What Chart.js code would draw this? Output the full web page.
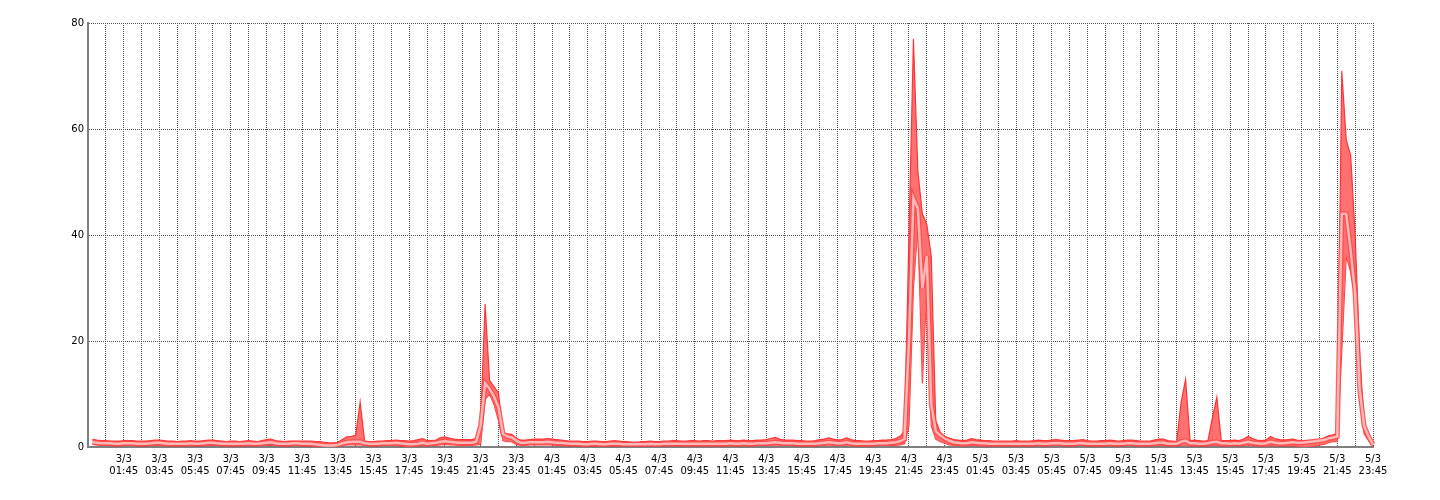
<!DOCTYPE html>
<html>
<head>
<meta charset="utf-8">
<script src="https://cdn.jsdelivr.net/npm/chart.js@4"></script>
<style>
  html, body { margin: 0; padding: 0; background: #fff; }
  #wrap { width: 1440px; height: 500px; }
</style>
</head>
<body>
<div id="wrap"><canvas id="myChart"></canvas></div>
<script>
// 15 min samples, first slot = 2/3 23:45
const startDay = 2;
const startMinutes = 23 * 60 + 45;
const stepMinutes = 15;

const maxData = [null,
  1.45, 1.3, 1.2, 1.2, 1.1, 1.1, 1.1, 1.2, 1.2, 1.2, 1.1, 1.1,
  1.1, 1.2, 1.3, 1.3, 1.2, 1.1, 1.1, 1.0, 1.1, 1.1, 1.2, 1.1,
  1.1, 1.2, 1.3, 1.3, 1.2, 1.1, 1.0, 1.1, 1.1, 1.0, 1.1, 1.2,
  1.1, 1.0, 1.2, 1.4, 1.5, 1.2, 1.1, 1.0, 1.1, 1.1, 1.1, 1.1,
  1.1, 1.1, 1.0, 1.0, 0.9, 0.8, 0.8, 0.9, 1.4, 1.9, 2.0, 2.2,
  8.5, 1.1, 1.0, 1.0, 1.1, 1.1, 1.2, 1.2, 1.3, 1.2, 1.2, 1.1,
  1.2, 1.4, 1.6, 1.2, 1.2, 1.3, 1.8, 1.9, 1.7, 1.5, 1.4, 1.4,
  1.4, 1.4, 1.6, 5.0, 27, 12.6, 11.4, 10.2, 2.6, 2.5, 2.4, 1.6,
  1.3, 1.3, 1.4, 1.5, 1.5, 1.5, 1.6, 1.5, 1.4, 1.3, 1.2, 1.1,
  1.1, 1.1, 1.0, 1.0, 1.1, 1.1, 1.0, 1.0, 1.1, 1.2, 1.1, 1.0,
  1.0, 0.9, 0.9, 1.0, 1.0, 1.1, 1.0, 1.0, 1.1, 1.1, 1.2, 1.2,
  1.1, 1.1, 1.2, 1.2, 1.1, 1.2, 1.2, 1.1, 1.2, 1.2, 1.2, 1.3,
  1.2, 1.2, 1.3, 1.2, 1.2, 1.3, 1.3, 1.4, 1.6, 1.8, 1.5, 1.3,
  1.3, 1.3, 1.2, 1.2, 1.1, 1.1, 1.2, 1.4, 1.5, 1.7, 1.5, 1.3,
  1.4, 1.7, 1.4, 1.2, 1.2, 1.1, 1.1, 1.2, 1.2, 1.3, 1.3, 1.4,
  1.6, 2.0, 3.0, 40, 77, 52, 44, 42, 36, 5.0, 2.8, 2.0,
  1.7, 1.4, 1.3, 1.2, 1.3, 1.6, 1.4, 1.3, 1.2, 1.2, 1.1, 1.1,
  1.1, 1.1, 1.1, 1.2, 1.1, 1.1, 1.1, 1.2, 1.3, 1.2, 1.2, 1.3,
  1.4, 1.3, 1.2, 1.2, 1.2, 1.3, 1.4, 1.2, 1.1, 1.1, 1.2, 1.2,
  1.3, 1.2, 1.1, 1.2, 1.3, 1.3, 1.2, 1.1, 1.1, 1.1, 1.3, 1.5,
  1.5, 1.2, 1.1, 1.0, 8.5, 12.8, 1.2, 1.3, 1.2, 1.1, 1.2, 5.5,
  9.4, 1.2, 1.2, 1.2, 1.3, 1.2, 1.5, 2.0, 1.6, 1.3, 1.2, 1.3,
  2.0, 1.6, 1.4, 1.3, 1.4, 1.5, 1.3, 1.2, 1.2, 1.2, 1.3, 1.2,
  1.7, 2.1, 2.3, 2.5, 71, 58, 55, 40, 18, 4.5, 2.5, 0.5
];

const avgData = [null,
  0.9, 0.8, 0.7, 0.7, 0.7, 0.6, 0.6, 0.7, 0.7, 0.7, 0.6, 0.6,
  0.6, 0.7, 0.8, 0.8, 0.7, 0.6, 0.6, 0.6, 0.6, 0.6, 0.7, 0.6,
  0.6, 0.7, 0.8, 0.8, 0.7, 0.6, 0.6, 0.6, 0.6, 0.6, 0.6, 0.7,
  0.6, 0.6, 0.7, 0.8, 0.9, 0.7, 0.6, 0.6, 0.6, 0.7, 0.7, 0.6,
  0.6, 0.6, 0.5, 0.4, 0.3, 0.3, 0.3, 0.4, 0.7, 0.9, 1.0, 1.0,
  1.0, 0.7, 0.6, 0.6, 0.6, 0.7, 0.7, 0.7, 0.8, 0.7, 0.6, 0.5,
  0.5, 0.6, 0.8, 0.6, 0.7, 0.8, 1.0, 1.1, 1.0, 0.9, 0.8, 0.8,
  0.8, 0.8, 1.0, 4.0, 12, 11, 9.5, 7.5, 2.5, 2.0, 1.8, 1.2,
  0.8, 0.8, 0.9, 0.9, 0.9, 0.9, 1.0, 0.9, 0.8, 0.8, 0.7, 0.6,
  0.6, 0.6, 0.5, 0.5, 0.6, 0.6, 0.5, 0.5, 0.6, 0.6, 0.6, 0.5,
  0.5, 0.5, 0.5, 0.5, 0.5, 0.6, 0.5, 0.5, 0.6, 0.6, 0.6, 0.6,
  0.6, 0.6, 0.6, 0.6, 0.6, 0.6, 0.6, 0.6, 0.6, 0.6, 0.6, 0.7,
  0.6, 0.6, 0.7, 0.6, 0.6, 0.7, 0.7, 0.7, 0.8, 0.9, 0.8, 0.7,
  0.7, 0.7, 0.6, 0.6, 0.6, 0.6, 0.6, 0.7, 0.8, 0.9, 0.8, 0.7,
  0.7, 0.9, 0.7, 0.6, 0.6, 0.6, 0.6, 0.6, 0.7, 0.7, 0.7, 0.8,
  0.9, 1.1, 1.5, 20, 47, 45, 30, 36, 8, 3.0, 2.2, 1.6,
  1.2, 0.9, 0.8, 0.7, 0.7, 0.9, 0.8, 0.7, 0.7, 0.6, 0.6, 0.6,
  0.6, 0.6, 0.6, 0.6, 0.6, 0.6, 0.6, 0.6, 0.7, 0.6, 0.6, 0.7,
  0.7, 0.7, 0.6, 0.6, 0.6, 0.7, 0.7, 0.6, 0.6, 0.6, 0.6, 0.6,
  0.7, 0.6, 0.6, 0.6, 0.7, 0.7, 0.6, 0.6, 0.6, 0.6, 0.7, 0.8,
  0.8, 0.6, 0.6, 0.6, 1.0, 1.2, 0.7, 0.7, 0.6, 0.6, 0.7, 0.9,
  1.0, 0.7, 0.7, 0.6, 0.7, 0.6, 0.8, 1.0, 0.8, 0.7, 0.6, 0.7,
  1.0, 0.8, 0.7, 0.7, 0.8, 0.9, 0.8, 0.8, 0.9, 1.0, 1.1, 1.2,
  1.3, 1.6, 1.8, 2.0, 44, 44, 37, 29, 11, 4.0, 2.0, 0.5
];

const minData = [null,
  0.5, 0.4, 0.3, 0.3, 0.3, 0.2, 0.2, 0.3, 0.3, 0.3, 0.2, 0.2,
  0.2, 0.3, 0.3, 0.3, 0.3, 0.2, 0.2, 0.2, 0.2, 0.2, 0.3, 0.2,
  0.2, 0.3, 0.3, 0.3, 0.3, 0.2, 0.2, 0.2, 0.2, 0.2, 0.2, 0.3,
  0.2, 0.2, 0.3, 0.3, 0.3, 0.3, 0.2, 0.2, 0.2, 0.3, 0.3, 0.2,
  0.2, 0.2, 0.2, 0.1, 0.0, 0.0, 0.0, 0.1, 0.3, 0.4, 0.4, 0.4,
  0.4, 0.3, 0.2, 0.2, 0.2, 0.3, 0.3, 0.3, 0.3, 0.2, 0.1, 0.0,
  0.1, 0.2, 0.3, 0.2, 0.3, 0.3, 0.4, 0.5, 0.4, 0.4, 0.3, 0.3,
  0.3, 0.3, 0.4, 0.5, 9, 10, 8, 5, 1.2, 1.0, 1.0, 0.5,
  0.3, 0.3, 0.4, 0.4, 0.4, 0.4, 0.4, 0.4, 0.3, 0.3, 0.2, 0.2,
  0.2, 0.2, 0.2, 0.2, 0.2, 0.2, 0.2, 0.2, 0.2, 0.2, 0.2, 0.2,
  0.2, 0.2, 0.2, 0.2, 0.2, 0.2, 0.2, 0.2, 0.2, 0.2, 0.2, 0.2,
  0.2, 0.2, 0.2, 0.2, 0.2, 0.2, 0.2, 0.2, 0.2, 0.2, 0.2, 0.3,
  0.2, 0.2, 0.3, 0.2, 0.2, 0.3, 0.3, 0.3, 0.3, 0.4, 0.3, 0.3,
  0.3, 0.3, 0.2, 0.2, 0.2, 0.2, 0.2, 0.3, 0.3, 0.4, 0.3, 0.3,
  0.3, 0.4, 0.3, 0.2, 0.2, 0.2, 0.2, 0.2, 0.3, 0.3, 0.3, 0.3,
  0.3, 0.4, 0.6, 4, 30, 42, 12, 30, 4, 1.5, 1.0, 0.7,
  0.4, 0.3, 0.3, 0.2, 0.2, 0.3, 0.3, 0.2, 0.2, 0.2, 0.2, 0.2,
  0.2, 0.2, 0.2, 0.2, 0.2, 0.2, 0.2, 0.2, 0.3, 0.2, 0.2, 0.3,
  0.3, 0.3, 0.2, 0.2, 0.2, 0.3, 0.3, 0.2, 0.2, 0.2, 0.2, 0.2,
  0.3, 0.2, 0.2, 0.2, 0.3, 0.3, 0.2, 0.2, 0.2, 0.2, 0.3, 0.3,
  0.3, 0.2, 0.2, 0.2, 0.3, 0.4, 0.2, 0.2, 0.2, 0.2, 0.2, 0.3,
  0.3, 0.2, 0.2, 0.2, 0.3, 0.2, 0.3, 0.4, 0.3, 0.2, 0.2, 0.2,
  0.3, 0.2, 0.2, 0.2, 0.2, 0.2, 0.1, 0.0, 0.0, 0.0, 0.2, 0.4,
  0.5, 0.8, 1.0, 1.0, 18, 36, 33, 28, 9, 2.5, 1.2, 0
];

const yTicks = [0, 20, 40, 60, 80];

// category labels: ["d/3", "hh:mm"]
function pad(n) { return (n < 10 ? '0' : '') + n; }
const labels = [];
for (let i = 0; i < maxData.length; i++) {
    let m = startMinutes + i * stepMinutes;
    let day = startDay + Math.floor(m / 1440);
    m = m % 1440;
    labels.push([day + '/3', pad(Math.floor(m / 60)) + ':' + pad(m % 60)]);
}

var ctx = document.getElementById('myChart').getContext('2d');

var myChart = new Chart(ctx, {
    type: 'line',
    data: {
        labels: labels,
        datasets: [{
            // max, filled down to min
            data: maxData,
            fill: '+1',
            borderColor: 'rgba(255,40,40,0.9)',
            backgroundColor: 'rgba(255,100,100,0.92)',
            borderWidth: 1.2,
            order: 2
        }, {
            data: minData,
            fill: false,
            borderColor: 'rgba(255,40,40,0.9)',
            borderWidth: 1.2,
            order: 3
        }, {
            // red edge under the average line
            data: avgData,
            fill: false,
            borderColor: 'rgba(255,70,70,0.85)',
            borderWidth: 5,
            order: 1
        }, {
            data: avgData,
            fill: false,
            borderColor: '#ffb8b8',
            borderWidth: 2.5,
            order: 0
        }]
    },
    options: {
        responsive: true,
        maintainAspectRatio: false,
        animation: false,
        layout: {
            padding: { top: 23, right: 67, left: 0, bottom: 0 }
        },
        elements: {
            point: { radius: 0, hoverRadius: 0 },
            line: { tension: 0 }
        },
        plugins: {
            legend: { display: false },
            tooltip: { enabled: false }
        },
        scales: {
            x: {
                offset: false,
                afterFit: (scale) => { scale.height = 53; },
                grid: {
                    color: '#555',
                    lineWidth: 1,
                    drawTicks: false
                },
                border: {
                    display: true,
                    color: '#808080',
                    width: 2,
                    dash: [1, 1]
                },
                ticks: {
                    autoSkip: false,
                    maxRotation: 0,
                    minRotation: 0,
                    padding: 6,
                    color: '#000',
                    font: { family: "'DejaVu Sans'", size: 10, lineHeight: 1.2 },
                    callback: function(value, index) {
                        if (index % 8 === 0 && index > 0) return labels[index];
                        if (index % 4 === 0) return '';
                        return null;
                    }
                }
            },
            y: {
                min: 0,
                max: 80,
                afterFit: (scale) => { scale.width = 88; },
                afterBuildTicks: (scale) => {
                    scale.ticks = yTicks.map(v => ({ value: v }));
                },
                grid: {
                    color: '#555',
                    lineWidth: 1,
                    drawTicks: false
                },
                border: {
                    display: true,
                    color: '#808080',
                    width: 2,
                    dash: [1, 1]
                },
                ticks: {
                    padding: 4,
                    color: '#000',
                    font: { family: "'DejaVu Sans'", size: 10 }
                }
            }
        }
    }
});
</script>
</body>
</html>
